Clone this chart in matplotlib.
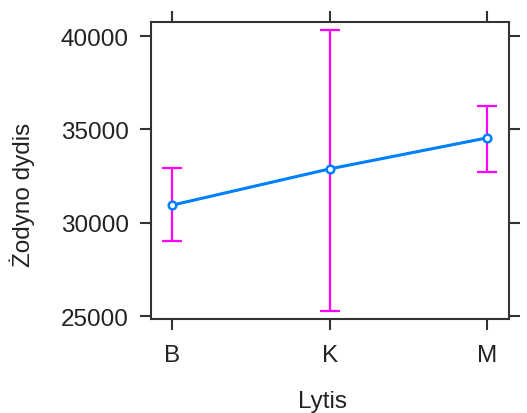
import matplotlib.pyplot as plt

# data
categories = ['B', 'K', 'M']
fit = [30940, 32880, 34540]
lower = [29020, 25250, 32690]
upper = [32930, 40320, 36270]

y_ticks = [25000, 30000, 35000, 40000]

plt.rcParams['font.family'] = ['Liberation Sans', 'DejaVu Sans']

fig = plt.figure(figsize=(5.27, 4.14), dpi=100)
ax = fig.add_axes([151/527, 1 - 320/414, 358/527, 297/414])

x = list(range(len(categories)))
yerr = [[f - l for f, l in zip(fit, lower)], [u - f for f, u in zip(fit, upper)]]

ax.errorbar(x, fit, yerr=yerr, fmt='none', ecolor='#ff00ff', elinewidth=1.6,
            capsize=7.5, capthick=1.6, zorder=2)
ax.plot(x, fit, color='#0080ff', lw=2.2, marker='o', ms=5.5, mfc='white',
        mec='#0080ff', mew=1.8, zorder=3)

ax.set_xlim(-0.135, 2.14)
ax.set_ylim(24840, 40750)
ax.set_xticks(x)
ax.set_xticklabels(categories)
ax.set_yticks(y_ticks)

for s in ax.spines.values():
    s.set_color('#333333')
    s.set_linewidth(1.5)

ax.tick_params(direction='out', length=8, width=1.5, color='#333333',
               labelsize=17.5, labelcolor='#222222', top=True, right=True,
               labeltop=False, labelright=False)
ax.tick_params(axis='x', pad=10)
ax.tick_params(axis='y', pad=8)

ax.set_xlabel('Lytis', fontsize=17.5, color='#222222')
ax.set_ylabel('Żodyno dydis', fontsize=17.5, color='#222222')
ax.xaxis.set_label_coords(0.48, -0.24)
ax.yaxis.set_label_coords(-0.325, 0.42)

fig.savefig('out.png', dpi=100)
